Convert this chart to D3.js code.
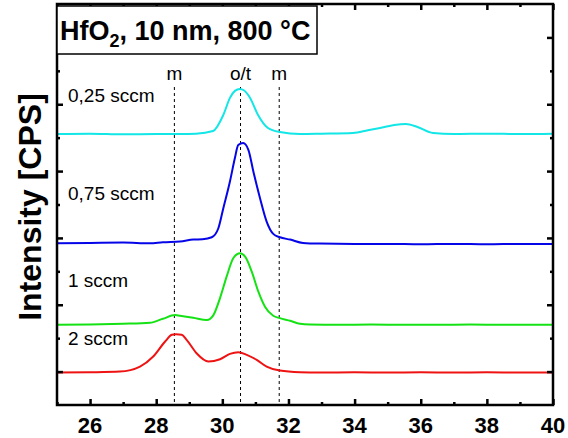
<!DOCTYPE html>
<html lang="en">
<head>
<meta charset="utf-8">
<title>HfO2 XRD</title>
<script src="https://cdn.jsdelivr.net/npm/d3@7"></script>
<style>
  html, body { margin: 0; padding: 0; background: #fff; }
  svg { display: block; font-family: "Liberation Sans", Arial, sans-serif; }
</style>
</head>
<body>
<div id="chart"></div>
<script>
// 2theta / intensity values, one pair of arrays per flow rate
var series = ["0,25 sccm", "0,75 sccm", "1 sccm", "2 sccm"];
var colors = ["#12e6e6", "#0505e8", "#14e214", "#ee1212"];

var x025 = [25, 26, 27, 28, 28.72, 29.2, 29.72, 30.03, 30.23, 30.38, 30.53, 30.65, 30.84, 31.08, 31.38, 31.74, 32.35, 33, 33.95, 34.4, 34.77, 35.2, 35.55, 35.9, 36.37, 37, 38, 39, 40];
var y025 = [811, 812, 810, 811, 811, 812, 820, 868, 919, 940, 946, 942, 919, 868, 829, 817, 811, 812, 814, 822, 829, 838, 841, 832, 814, 811, 812, 811, 812];

var x075 = [25, 26, 27, 27.81, 28.2, 28.72, 29.12, 29.4, 29.68, 29.88, 30.03, 30.23, 30.38, 30.48, 30.63, 30.79, 30.94, 31.14, 31.34, 31.54, 31.74, 32.05, 32.44, 32.95, 34, 35, 36, 37, 38, 39, 40];
var y075 = [484, 485, 486, 484, 487, 489, 495, 496, 502, 529, 589, 669, 739, 778, 784, 763, 698, 619, 549, 512, 502, 495, 485, 483, 482, 482, 481, 482, 481, 482, 482];

var x1 = [25, 26, 27, 27.81, 28.2, 28.57, 28.72, 29.12, 29.53, 29.73, 29.93, 30.13, 30.33, 30.53, 30.69, 30.89, 31.09, 31.29, 31.54, 31.74, 32.05, 32.35, 32.65, 33.5, 34.5, 35.5, 36.5, 37.5, 38.5, 40];
var y1 = [240, 241, 243, 246, 258, 269, 267, 261, 254, 269, 320, 384, 439, 454, 444, 399, 339, 294, 267, 260, 252, 243, 241, 240, 241, 240, 240, 241, 240, 240];

var x2 = [25, 26, 26.9, 27.51, 27.91, 28.27, 28.47, 28.6, 28.77, 28.92, 29.22, 29.58, 29.93, 30.23, 30.48, 30.74, 31.04, 31.34, 31.74, 32.35, 32.95, 34, 35, 36, 37, 38, 39, 40];
var y2 = [97, 98, 100, 115, 145, 190, 210, 212, 210, 195, 155, 130, 137, 153, 158, 150, 135, 115, 103, 98, 97, 98, 97, 98, 97, 98, 97, 97];

var xData = [x025, x075, x1, x2];
var yData = [y025, y075, y1, y2];
var labelY = [102, 200, 287, 345];   // baseline of each series label

var xTicks = [26, 28, 30, 32, 34, 36, 38, 40];
var refLines = [28.55, 30.55, 31.72];
var refLabels = ["m", "o/t", "m"];

var W = 568, H = 438;
var pLeft = 57, pRight = 553, pTop = 4, pBottom = 405;

var svg = d3.select("#chart").append("svg")
  .attr("width", W).attr("height", H);

var x = d3.scaleLinear().domain([25, 40]).range([pLeft, pRight]);
var y = d3.scaleLinear().domain([0, 1200]).range([pBottom, pTop]);

// reference lines (dashed)
svg.selectAll("line.ref")
  .data(refLines)
  .enter().append("line")
  .attr("class", "ref")
  .attr("x1", function(d) { return x(d); })
  .attr("x2", function(d) { return x(d); })
  .attr("y1", 87).attr("y2", pBottom)
  .attr("stroke", "#000").attr("stroke-width", 1)
  .attr("stroke-dasharray", "3,3");

svg.selectAll("text.ref")
  .data(refLabels)
  .enter().append("text")
  .attr("class", "ref")
  .attr("x", function(d, i) { return x(refLines[i]); })
  .attr("y", 80)
  .attr("text-anchor", "middle")
  .attr("font-size", "19px")
  .text(function(d) { return d; });

// curves
var line = d3.line().curve(d3.curveMonotoneX);
series.forEach(function(s, i) {
  var pts = xData[i].map(function(d, j) { return [x(d), y(yData[i][j])]; });
  svg.append("path")
    .attr("d", line(pts))
    .attr("fill", "none")
    .attr("stroke", colors[i])
    .attr("stroke-width", 2);
  svg.append("text")
    .attr("x", 68).attr("y", labelY[i])
    .attr("font-size", "19px")
    .text(s);
});

// frame with inward ticks
var gB = svg.append("g").attr("transform", "translate(0," + pBottom + ")")
  .call(d3.axisBottom(x).tickValues(d3.range(25, 41, 1)).tickSize(-6).tickFormat(""));
gB.selectAll(".tick line").attr("y2", function(d) { return d % 2 === 0 ? -6 : -3; });

var gT = svg.append("g").attr("transform", "translate(0," + pTop + ")")
  .call(d3.axisTop(x).tickValues(d3.range(25, 41, 1)).tickSize(-6).tickFormat(""));
gT.selectAll(".tick line").attr("y2", function(d) { return d % 2 === 0 ? 6 : 3; });

var yt = d3.range(100, 1200, 100);
var gL = svg.append("g").attr("transform", "translate(" + pLeft + ",0)")
  .call(d3.axisLeft(y).tickValues(yt).tickSize(-6).tickFormat(""));
gL.selectAll(".tick line").attr("x2", function(d) { return d % 200 === 100 ? 6 : 3; });

var gR = svg.append("g").attr("transform", "translate(" + pRight + ",0)")
  .call(d3.axisRight(y).tickValues(yt).tickSize(-6).tickFormat(""));
gR.selectAll(".tick line").attr("x2", function(d) { return d % 200 === 100 ? -6 : -3; });

svg.selectAll(".domain").remove();
svg.selectAll(".tick line").attr("stroke", "#000").attr("stroke-width", 2.5);

svg.append("rect")
  .attr("x", pLeft).attr("y", pTop)
  .attr("width", pRight - pLeft).attr("height", pBottom - pTop)
  .attr("fill", "none").attr("stroke", "#000").attr("stroke-width", 2.5);

// x tick labels
svg.selectAll("text.xt")
  .data(xTicks)
  .enter().append("text")
  .attr("class", "xt")
  .attr("x", function(d) { return x(d); })
  .attr("y", 433)
  .attr("text-anchor", "middle")
  .attr("font-size", "22px")
  .attr("font-weight", "bold")
  .text(function(d) { return d; });

// y label
svg.append("text")
  .attr("transform", "translate(41,207) rotate(-90)")
  .attr("text-anchor", "middle")
  .attr("font-size", "32px")
  .attr("font-weight", "bold")
  .text("Intensity [CPS]");

// title box
svg.append("rect")
  .attr("x", pLeft).attr("y", 6)
  .attr("width", 260).attr("height", 48)
  .attr("fill", "#fff").attr("stroke", "#000").attr("stroke-width", 1.5);

var t = svg.append("text")
  .attr("x", 60).attr("y", 40)
  .attr("font-size", "27px")
  .attr("font-weight", "bold");
t.append("tspan").text("HfO");
t.append("tspan").attr("font-size", "18px").attr("dy", 7).text("2");
t.append("tspan").attr("dy", -7).text(", 10 nm, 800 °C");
</script>
</body>
</html>
